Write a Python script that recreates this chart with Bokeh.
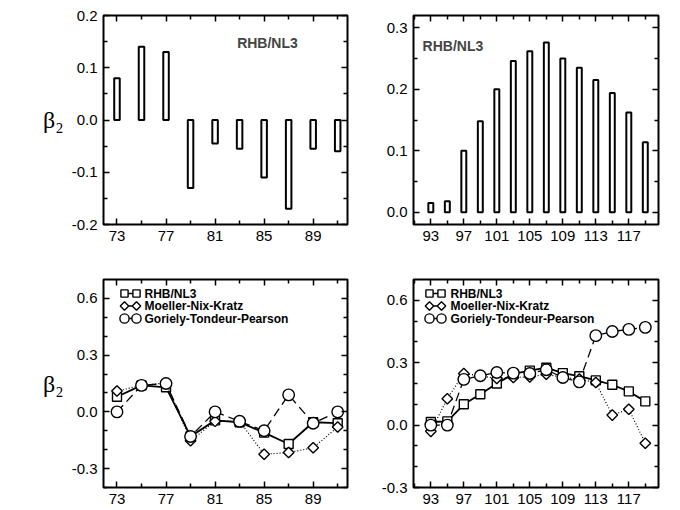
import math
from bokeh.plotting import figure
from bokeh.models import (FixedTicker, PrintfTickFormatter, LinearAxis, Range1d,
                          Label, CustomJSTickFormatter)
from bokeh.core.properties import value
from bokeh.layouts import column, row
from bokeh.embed import file_html
from bokeh.resources import INLINE

# ---------------- data ----------------
n_left = [73, 75, 77, 79, 81, 83, 85, 87, 89, 91]
n_right = [93, 95, 97, 99, 101, 103, 105, 107, 109, 111, 113, 115, 117, 119]

rhb_left = [0.08, 0.14, 0.13, -0.13, -0.045, -0.055, -0.11, -0.17, -0.055, -0.06]
mnk_left = [0.11, 0.14, 0.153, -0.153, -0.05, -0.05, -0.224, -0.215, -0.19, -0.08]
gtp_left = [0.0, 0.14, 0.15, -0.13, 0.0, -0.05, -0.10, 0.09, -0.06, 0.0]

rhb_right = [0.015, 0.018, 0.10, 0.148, 0.20, 0.246, 0.262, 0.276, 0.250, 0.235,
             0.215, 0.194, 0.162, 0.114]
mnk_right = [-0.03, 0.127, 0.248, 0.237, 0.224, 0.229, 0.232, 0.245, 0.229, 0.221,
             0.205, 0.048, 0.076, -0.087]
gtp_right = [0.0, 0.0, 0.22, 0.237, 0.253, 0.25, 0.248, 0.266, 0.229, 0.208,
             0.43, 0.45, 0.46, 0.47]

xt_left = [73, 77, 81, 85, 89]
xm_left = [71, 75, 79, 83, 87, 91]
xt_right = [93, 97, 101, 105, 109, 113, 117]
xm_right = [91, 95, 99, 103, 107, 111, 115, 119]

yt_top_left = [-0.2, -0.1, 0.0, 0.1, 0.2]
ym_top_left = [-0.15, -0.05, 0.05, 0.15]
yt_top_right = [0.0, 0.1, 0.2, 0.3]
ym_top_right = [0.05, 0.15, 0.25]
yt_bottom = [-0.3, 0.0, 0.3, 0.6]
ym_bottom = [-0.4, -0.2, -0.1, 0.1, 0.2, 0.4, 0.5]

series_names = ["RHB/NL3", "Moeller-Nix-Kratz", "Goriely-Tondeur-Pearson"]
panel_label = "RHB/NL3"
ylabel = "β₂"

FONT = "'Liberation Sans', Arial, Helvetica, sans-serif"
SERIF = "'Liberation Serif', 'DejaVu Serif', serif"


def make_fig(xr, yr, xt, xm, yt, ym, width, height, bl, br, bt, bb, show_ylabel):
    p = figure(width=width, height=height, output_backend="svg", toolbar_location=None,
               x_range=Range1d(*xr), y_range=Range1d(*yr),
               min_border_left=bl, min_border_right=br,
               min_border_top=bt, min_border_bottom=bb)
    p.grid.visible = False
    p.outline_line_color = "black"
    p.outline_line_width = 2
    p.background_fill_color = "white"
    p.border_fill_color = "white"

    bottom = p.below[0]
    left = p.left[0]
    bottom.ticker = FixedTicker(ticks=xt, minor_ticks=xm)
    left.ticker = FixedTicker(ticks=yt, minor_ticks=ym)
    bottom.formatter = PrintfTickFormatter(format="%d")
    left.formatter = PrintfTickFormatter(format="%.1f")

    blank = CustomJSTickFormatter(code="return ''")
    top = LinearAxis(ticker=FixedTicker(ticks=xt, minor_ticks=xm), formatter=blank)
    right = LinearAxis(ticker=FixedTicker(ticks=yt, minor_ticks=ym), formatter=blank)
    p.add_layout(top, "above")
    p.add_layout(right, "right")

    for ax in [bottom, left, top, right]:
        ax.axis_line_color = None
        ax.major_tick_in = 6
        ax.major_tick_out = 0
        ax.minor_tick_in = 4
        ax.minor_tick_out = 0
        ax.major_tick_line_color = "black"
        ax.minor_tick_line_color = "black"
        ax.major_tick_line_width = 1.5
        ax.minor_tick_line_width = 1.5
        ax.major_label_text_font = FONT
        ax.major_label_text_font_size = "15px"
        ax.major_label_text_color = "black"
        ax.major_label_standoff = 6
    for ax in [top, right]:
        ax.major_label_text_font_size = "1px"
        ax.major_label_standoff = 0

    if show_ylabel:
        left.axis_label = ylabel
        left.axis_label_orientation = "horizontal"
        left.axis_label_text_font = SERIF
        left.axis_label_text_font_size = "24px"
        left.axis_label_text_font_style = "normal"
        left.axis_label_text_color = "black"
        left.axis_label_standoff = 5
    return p


# geometry (figure sizes and borders, px)
LW, RW = 357, 311
TH, BH = 254, 255
XR_L, XR_R = (71.9, 91.8), (90.9, 120.6)
YR_B_L, YR_B_R = (-0.4, 0.7), (-0.3, 0.7)

p1 = make_fig(XR_L, (-0.2, 0.2), xt_left, xm_left, yt_top_left, ym_top_left,
              LW, TH, 103, 10, 15, 30, True)
p2 = make_fig(XR_R, (-0.02, 0.32), xt_right, xm_right, yt_top_right, ym_top_right,
              RW, TH, 56, 10, 15, 30, False)
p3 = make_fig(XR_L, YR_B_L, xt_left, xm_left, yt_bottom, ym_bottom,
              LW, BH, 103, 10, 25, 22, True)
p4 = make_fig(XR_R, YR_B_R, xt_right, xm_right, yt_bottom, ym_bottom,
              RW, BH, 56, 10, 25, 22, False)

# bars
p1.vbar(x=n_left, top=rhb_left, bottom=0, width=0.45, fill_color="white",
        line_color="black", line_width=2)
p2.vbar(x=n_right, top=rhb_right, bottom=0, width=0.6, fill_color="white",
        line_color="black", line_width=2)

p1.add_layout(Label(x=82.8, y=0.148, text=panel_label, text_font=FONT,
                    text_font_size="14px", text_font_style="bold",
                    text_baseline="middle", text_align="left"))
p2.add_layout(Label(x=92.0, y=0.27, text=panel_label, text_font=FONT,
                    text_font_size="14px", text_font_style="bold",
                    text_baseline="middle", text_align="left"))

STYLES = [
    dict(line=dict(line_width=1.8), marker=dict(marker="square", size=9, angle=0)),
    dict(line=dict(line_width=1.2, line_dash="1 2"),
         marker=dict(marker="square", size=7.5, angle=math.pi / 4)),
    dict(line=dict(line_width=1.3, line_dash="9 5"),
         marker=dict(marker="circle", size=11.5, angle=0)),
]


def draw_lines(p, x, series):
    for ys, st in zip(series, STYLES):
        p.line(x, ys, line_color="black", **st["line"])
        p.scatter(x, ys, fill_color="white", line_color="black", line_width=1.4,
                  **st["marker"])


def draw_legend(p, xr, yr, fw, fh, dx1, dx2, dxt, dy0, ddy):
    """Legend drawn in the frame: pixel offsets converted through the ranges."""
    kx = (xr[1] - xr[0]) / fw
    ky = (yr[1] - yr[0]) / fh
    for i, (name, st) in enumerate(zip(series_names, STYLES)):
        yy = yr[1] - (dy0 + ddy * i) * ky
        xa, xb = xr[0] + dx1 * kx, xr[0] + dx2 * kx
        mk = dict(st["marker"])
        mk["size"] = mk["size"] * 0.8
        p.line([xa, xb], [yy, yy], line_color="black", line_width=1.3)
        p.scatter([xa, xb], [yy, yy], fill_color="white", line_color="black",
                  line_width=1.4, **mk)
        p.text([xr[0] + dxt * kx], [yy], text=[name], text_font=value(FONT),
               text_font_size="12px", text_font_style="bold",
               text_baseline="middle", text_align="left", text_color="black")


draw_lines(p3, n_left, [rhb_left, mnk_left, gtp_left])
draw_lines(p4, n_right, [rhb_right, mnk_right, gtp_right])

draw_legend(p3, XR_L, YR_B_L, LW - 103 - 10, BH - 25 - 22, 21, 33, 41, 14, 12.5)
draw_legend(p4, XR_R, YR_B_R, RW - 56 - 10, BH - 25 - 22, 16, 28, 37, 14, 12.5)

layout = column(row(p1, p2), row(p3, p4))
open("out.html", "w").write(file_html(layout, INLINE))
